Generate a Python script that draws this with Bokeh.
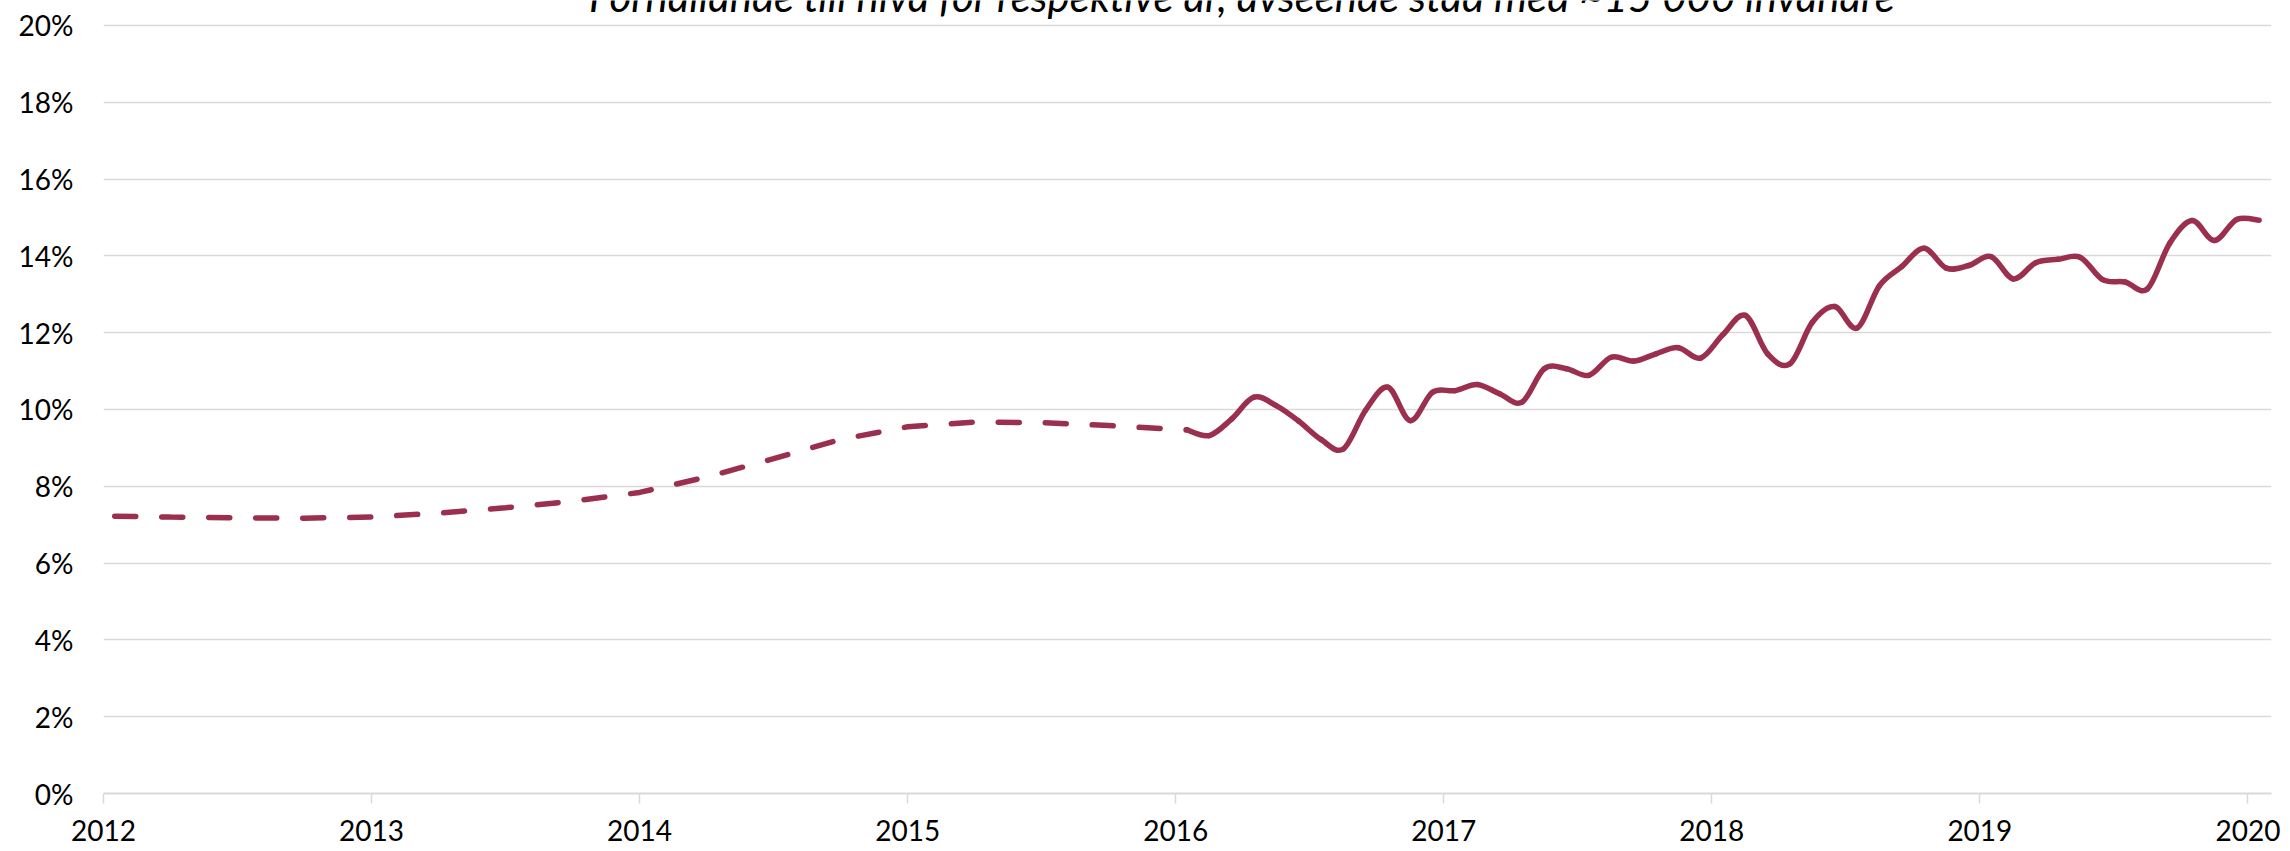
from bokeh.plotting import figure
from bokeh.models import FixedTicker, PrintfTickFormatter, Label, ColumnDataSource
from bokeh.embed import file_html
from bokeh.resources import INLINE

# ---------------- data ----------------
title_text = "Förhållande till nivå för respektive år, avseende stad med ~15 000 invånare"

year_ticks = [2012, 2013, 2014, 2015, 2016, 2017, 2018, 2019, 2020]
pct_ticks = [0, 2, 4, 6, 8, 10, 12, 14, 16, 18, 20]

# estimated (dashed) period, decimal year positions
est_x = [2012.042, 2012.25, 2012.5, 2012.75, 2013.0, 2013.25, 2013.5, 2013.75,
         2014.0, 2014.25, 2014.5, 2014.75, 2015.0, 2015.25, 2015.5, 2015.75, 2016.042]
est_y = [7.22, 7.20, 7.18, 7.17, 7.20, 7.30, 7.44, 7.61,
         7.84, 8.24, 8.72, 9.22, 9.55, 9.67, 9.66, 9.58, 9.47]

# monthly values Jan 2016 - Jan 2020 (percent)
months = [f"{2016 + k // 12}-{k % 12 + 1:02d}" for k in range(49)]
monthly = [9.47, 9.32, 9.75, 10.32, 10.10, 9.70, 9.22, 8.97, 9.98, 10.58, 9.71, 10.45,
           10.49, 10.65, 10.41, 10.19, 11.06, 11.06, 10.89, 11.36, 11.26, 11.45, 11.61, 11.34,
           11.95, 12.45, 11.45, 11.19, 12.27, 12.68, 12.12, 13.22, 13.72, 14.20, 13.68, 13.75,
           13.98, 13.40, 13.82, 13.91, 13.96, 13.38, 13.32, 13.14, 14.33, 14.92, 14.40, 14.95,
           14.93]

# ---------------- styling ----------------
LINE = "#9B2F4E"
GRID = "#D9D9D9"
FONT = "Lato"

mx = [int(m[:4]) + (int(m[5:]) - 0.5) / 12 for m in months]

# frame reaches the top edge so the (clipped) title can sit above the 20% line
p = figure(width=2290, height=851, output_backend="svg", toolbar_location=None,
           x_range=(2012, 2020.088), y_range=(0, 20.65))
p.min_border_left = 103
p.min_border_right = 19
p.min_border_top = 0
p.min_border_bottom = 58
p.outline_line_color = None
p.background_fill_color = "white"
p.border_fill_color = "white"

# axes
p.xaxis.ticker = FixedTicker(ticks=year_ticks)
p.xaxis.formatter = PrintfTickFormatter(format="%d")
p.xaxis.axis_line_color = GRID
p.xaxis.axis_line_width = 2
p.xaxis.major_tick_line_color = GRID
p.xaxis.major_tick_line_width = 1.5
p.xaxis.major_tick_out = 10
p.xaxis.major_tick_in = 0
p.xaxis.minor_tick_line_color = None
p.xaxis.major_label_standoff = 16
p.xaxis.major_label_text_font = FONT
p.xaxis.major_label_text_font_size = "28px"
p.xaxis.major_label_text_color = "#000000"

p.yaxis.ticker = FixedTicker(ticks=pct_ticks)
p.yaxis.formatter = PrintfTickFormatter(format="%d%%")
p.yaxis.axis_line_color = None
p.yaxis.major_tick_line_color = None
p.yaxis.minor_tick_line_color = None
p.yaxis.major_tick_out = 0
p.yaxis.major_label_standoff = 30
p.yaxis.major_label_text_font = FONT
p.yaxis.major_label_text_font_size = "28px"
p.yaxis.major_label_text_color = "#000000"

p.xgrid.grid_line_color = None
p.ygrid.ticker = FixedTicker(ticks=pct_ticks)
p.ygrid.grid_line_color = GRID
p.ygrid.grid_line_width = 1.5

# dashed (estimated) part
p.line(est_x, est_y, line_color=LINE, line_width=5.5, line_dash="21 26", line_cap="round")

# solid monthly part, smoothed with Catmull-Rom -> cubic Bezier
n = len(mx)
px = [mx[0]] + mx + [mx[-1]]
py = [monthly[0]] + monthly + [monthly[-1]]
x0, y0, x1, y1, cx0, cy0, cx1, cy1 = [], [], [], [], [], [], [], []
for i in range(1, n):
    a, b, c, d = i - 1, i, i + 1, i + 2
    x0.append(px[b]); y0.append(py[b])
    x1.append(px[c]); y1.append(py[c])
    cx0.append(px[b] + (px[c] - px[a]) / 6); cy0.append(py[b] + (py[c] - py[a]) / 6)
    cx1.append(px[c] - (px[d] - px[b]) / 6); cy1.append(py[c] - (py[d] - py[b]) / 6)
src = ColumnDataSource(dict(x0=x0, y0=y0, x1=x1, y1=y1, cx0=cx0, cy0=cy0, cx1=cx1, cy1=cy1))
p.bezier(x0="x0", y0="y0", x1="x1", y1="y1", cx0="cx0", cy0="cy0", cx1="cx1", cy1="cy1",
         source=src, line_color=LINE, line_width=5.5, line_cap="round")

# title at the very top (clipped by the page edge, as in the source)
title = Label(x=2016.249, y=20, y_offset=29, text=title_text, text_align="center",
              text_baseline="alphabetic", text_font=FONT, text_font_style="italic",
              text_font_size="42px", text_color="#000000")
p.add_layout(title)

open("out.html", "w").write(file_html(p, INLINE))
